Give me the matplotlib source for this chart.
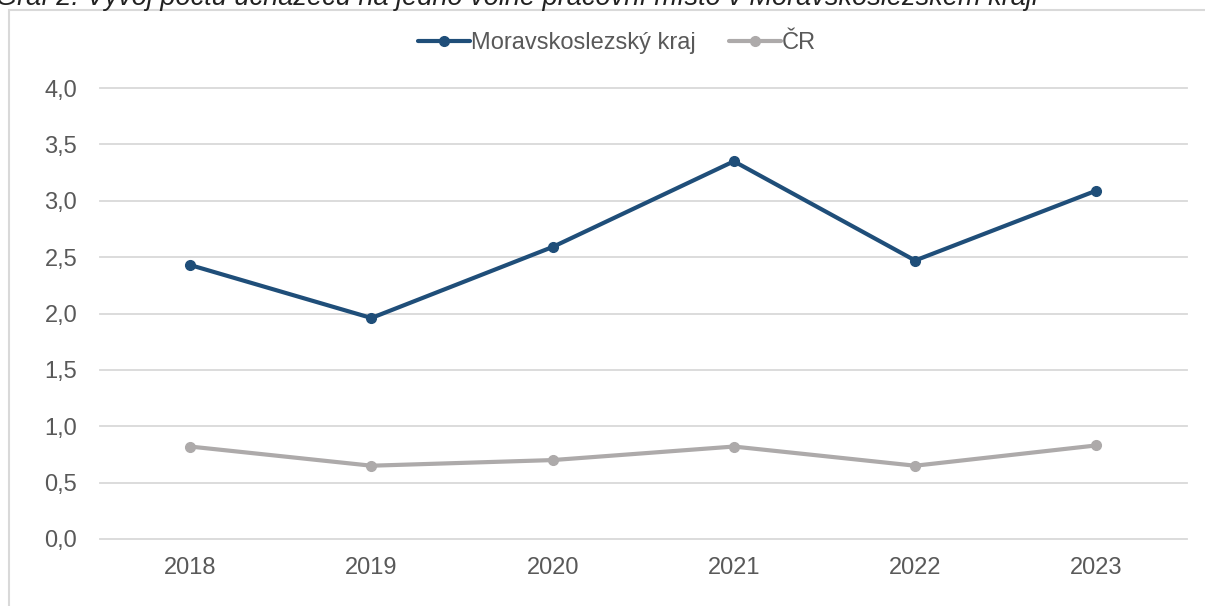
import matplotlib.pyplot as plt
from matplotlib.patches import Rectangle
from matplotlib.ticker import FuncFormatter

plt.rcParams['font.family'] = ['Liberation Sans', 'DejaVu Sans']

# data
years = ["2018", "2019", "2020", "2021", "2022", "2023"]
msk = [2.43, 1.96, 2.59, 3.35, 2.47, 3.09]
cr = [0.82, 0.65, 0.70, 0.82, 0.65, 0.83]

blue = "#1F4E79"
grey = "#ADAAAA"
txt = "#595959"

fig = plt.figure(figsize=(12.05, 6.06), dpi=100)
ax = fig.add_axes([99.5 / 1205, 1 - 539 / 606, (1187 - 99.5) / 1205, (539 - 88) / 606])

x = range(len(years))
ax.plot(x, msk, color=blue, lw=3, marker="o", ms=7, label="Moravskoslezský kraj",
        solid_capstyle="round", zorder=3)
ax.plot(x, cr, color=grey, lw=3, marker="o", ms=7, label="ČR",
        solid_capstyle="round", zorder=3)

ax.set_xlim(-0.5, len(years) - 0.5)
ax.set_ylim(0, 4.0)
ax.set_yticks([i * 0.5 for i in range(9)])
ax.yaxis.set_major_formatter(FuncFormatter(lambda v, p: f"{v:.1f}".replace(".", ",")))
ax.set_xticks(list(x))
ax.set_xticklabels(years)
ax.tick_params(length=0, labelsize=17, colors=txt)
ax.tick_params(axis="y", pad=16)
ax.tick_params(axis="x", pad=13)
ax.grid(axis="y", color="#D9D9D9", lw=1.3)
for s in ax.spines.values():
    s.set_visible(False)
for gl in ax.get_ygridlines():
    gl.set_clip_on(False)

leg = fig.legend(loc="center", bbox_to_anchor=(0.512, 1 - 43 / 606), ncol=2, frameon=False,
                 fontsize=17, handlelength=2.2, columnspacing=1.4, handletextpad=0.05)
for t in leg.get_texts():
    t.set_color(txt)

# outer chart frame
fig.patches.append(Rectangle((9 / 1205, -0.1), 1.2, 1.1 - 10 / 606, transform=fig.transFigure,
                             fill=False, ec="#D9D9D9", lw=1.5))

# title, cut off at the top edge like in the source
fig.text(-0.003, 1 - 5 / 606, "Graf 2: Vývoj počtu uchazečů na jedno volné pracovní místo v Moravskoslezském kraji",
         fontsize=19.5, style="italic", color="#222222", ha="left", va="baseline")

fig.savefig("out.png", dpi=100)
